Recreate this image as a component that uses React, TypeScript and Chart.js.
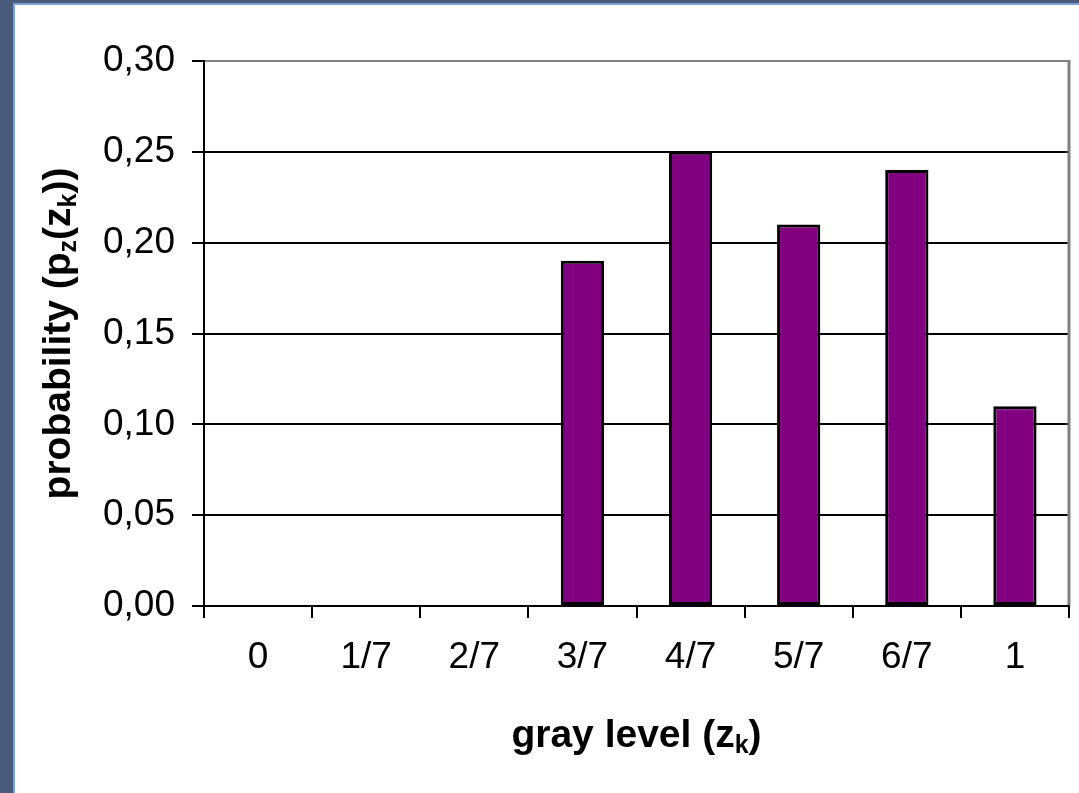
import React, { useEffect, useRef } from "react";
import { Chart, registerables } from "chart.js";

Chart.register(...registerables);

const categories: string[] = ["0", "1/7", "2/7", "3/7", "4/7", "5/7", "6/7", "1"];
const probabilities: number[] = [0, 0, 0, 0.19, 0.25, 0.21, 0.24, 0.11];
const yTicks = { min: 0, max: 0.3, step: 0.05 };
const xTitleParts: [string, boolean][] = [["gray level (z", false], ["k", true], [")", false]];
const yTitleParts: [string, boolean][] = [
  ["probability (p", false],
  ["z", true],
  ["(z", false],
  ["k", true],
  ["))", false],
];

const FONT = "'Liberation Sans', Arial, Helvetica, sans-serif";

function drawParts(ctx: CanvasRenderingContext2D, parts: [string, boolean][], cx: number, baseY: number) {
  const main = `bold 39px ${FONT}`;
  const sub = `bold 25px ${FONT}`;
  let total = 0;
  for (const [t, s] of parts) {
    ctx.font = s ? sub : main;
    total += ctx.measureText(t).width;
  }
  let x = cx - total / 2;
  ctx.textAlign = "left";
  ctx.textBaseline = "alphabetic";
  for (const [t, s] of parts) {
    ctx.font = s ? sub : main;
    ctx.fillText(t, x, s ? baseY + 6 : baseY);
    x += ctx.measureText(t).width;
  }
}

const titlesPlugin = {
  id: "customTitles",
  afterDraw(chart: any) {
    const ctx: CanvasRenderingContext2D = chart.ctx;
    const area = chart.chartArea;
    ctx.save();
    // plot border (gray top and right)
    ctx.strokeStyle = "#808080";
    ctx.lineWidth = 2;
    ctx.beginPath();
    ctx.moveTo(area.left + 1, area.top);
    ctx.lineTo(area.right, area.top);
    ctx.stroke();
    ctx.lineWidth = 3;
    ctx.beginPath();
    ctx.moveTo(area.right, area.top - 1);
    ctx.lineTo(area.right, area.bottom - 1);
    ctx.stroke();
    // titles
    ctx.fillStyle = "#000";
    const cx = (area.left + area.right) / 2;
    const cy = (area.top + area.bottom) / 2;
    drawParts(ctx, xTitleParts, cx, 747);
    ctx.translate(70, cy);
    ctx.rotate(-Math.PI / 2);
    drawParts(ctx, yTitleParts, 0, 0);
    ctx.restore();
  },
};

export default function App() {
  const canvasRef = useRef<HTMLCanvasElement | null>(null);

  useEffect(() => {
    const canvas = canvasRef.current;
    if (!canvas) return;
    Chart.defaults.font.family = FONT;
    const chart = new Chart(canvas, {
      type: "bar",
      data: {
        labels: categories,
        datasets: [
          {
            data: probabilities,
            backgroundColor: "#800080",
            borderColor: "#000000",
            borderWidth: 3,
            borderSkipped: false,
            categoryPercentage: 0.4,
            barPercentage: 1,
          },
        ],
      },
      options: {
        animation: false,
        responsive: false,
        devicePixelRatio: 1,
        layout: { padding: { left: 0, top: 61, right: 10, bottom: 0 } },
        plugins: {
          legend: { display: false },
          tooltip: { enabled: false },
          title: { display: false },
        },
        scales: {
          x: {
            type: "category",
            afterFit(scale: any) {
              scale.height = 187;
            },
            grid: {
              offset: true,
              drawOnChartArea: false,
              drawTicks: true,
              tickLength: 12,
              color: "#000",
              lineWidth: 2,
            },
            border: { display: true, color: "#000", width: 2 },
            ticks: {
              color: "#000",
              font: { size: 37, family: FONT },
              padding: 18,
              maxRotation: 0,
              autoSkip: false,
            },
          },
          y: {
            min: yTicks.min,
            max: yTicks.max,
            afterFit(scale: any) {
              scale.width = 204;
            },
            grid: {
              drawTicks: true,
              tickLength: 12,
              color: "#000",
              lineWidth: 2,
            },
            border: { display: true, color: "#000", width: 2 },
            ticks: {
              stepSize: yTicks.step,
              color: "#000",
              font: { size: 37, family: FONT },
              padding: 17,
              callback: (v: any) => Number(v).toFixed(2).replace(".", ","),
            },
          },
        },
      },
      plugins: [titlesPlugin],
    } as any);
    return () => chart.destroy();
  }, []);

  return (
    <div
      style={{
        position: "fixed",
        left: 0,
        top: 0,
        width: 1079,
        height: 793,
        background: "#4a5a7b",
        overflow: "hidden",
      }}
    >
      <div
        style={{
          position: "absolute",
          left: 13,
          top: 3,
          right: 0,
          bottom: 0,
          borderLeft: "2px solid #74a2d6",
          borderTop: "2px solid #74a2d6",
          background: "#ffffff",
        }}
      />
      <canvas
        ref={canvasRef}
        width={1079}
        height={793}
        style={{ position: "absolute", left: 0, top: 0, width: 1079, height: 793 }}
      />
    </div>
  );
}
